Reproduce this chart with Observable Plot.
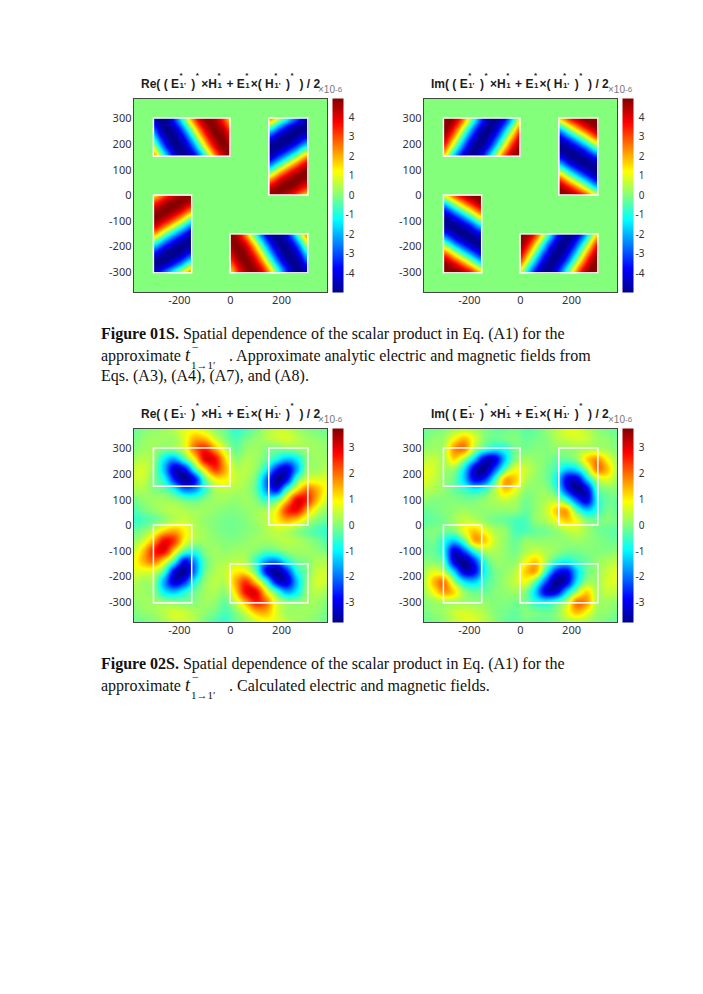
<!DOCTYPE html>
<html><head><meta charset="utf-8">
<script src="https://cdn.jsdelivr.net/npm/d3@7"></script>
<script src="https://cdn.jsdelivr.net/npm/@observablehq/plot@0.6"></script>
<style>
html,body{margin:0;padding:0;background:#fff;overflow:hidden}
#page{position:relative;width:703px;height:994px;overflow:hidden;background:#fff}
.plot{position:absolute}
.plot svg{display:block;background:transparent;overflow:visible}
.title{position:absolute;font:bold 12px "Liberation Sans",sans-serif;color:#1c1c1c;white-space:nowrap;line-height:14px}
.st{display:inline-block;position:relative;height:10px;vertical-align:baseline}
.st i{position:absolute;left:0.5px;font-style:normal;font-size:8px;line-height:8px}
.st i.u{top:-6px}.st i.d{top:4px}
.exp{position:absolute;font:10px "Liberation Sans",sans-serif;color:#777;white-space:nowrap}
.exp sup{font-size:8px;position:relative;top:-1px;vertical-align:baseline}
.cap{position:absolute;left:101px;font:16px "Liberation Serif",serif;color:#111;white-space:nowrap;line-height:20px}
.m{display:inline-block;position:relative;width:40px;height:14px;font-style:italic;font-size:18px}
.m i{position:absolute;font-style:normal}
</style></head><body><div id="page"></div>
<script>
// ---- colour map (jet) stops
const jetStops = [-1, -0.75, -0.25, 0, 0.25, 0.75, 1];
const jetColors = ["#00008f", "#0000ff", "#00ffff", "#84ff7c", "#ffff00", "#ff0000", "#800000"];

// ---- scale limits and ticks
const limitTop = 4.97, limitBottom = 3.75;
const barTicksTop = [-4, -3, -2, -1, 0, 1, 2, 3, 4];
const barTicksBottom = [-3, -2, -1, 0, 1, 2, 3];
const axisXTicks = [-200, 0, 200];
const axisYTicks = [-300, -200, -100, 0, 100, 200, 300];

// ---- white rectangles: [x1, x2, y1, y2]
const boxes = [[-300, 0, 152, 302], [152, 305, 0, 302], [-300, -150, -305, 0], [0, 305, -305, -152]];

// ---- Figure 01S: read from the upper-left box (rows y = 300,250,200,150; columns x = -300..0 by 30).
// The other three boxes are the same pattern turned by 90 degrees.
const fig1X = [-300, -270, -240, -210, -180, -150, -120, -90, -60, -30, 0];
const fig1Y = [300, 250, 200, 150];
const fig1Re = [
  [-4.4, -5, -4.4, -2.6, -0.2, 2.3, 4.2, 4.9, 4.6, 3.4, 1.6],
  [-2.5, -4.4, -5, -4.4, -2.6, -0.2, 2.3, 4.2, 4.9, 4.6, 3.4],
  [0, -2.5, -4.4, -5, -4.4, -2.6, -0.2, 2.3, 4.2, 4.9, 4.6],
  [2.5, 0, -2.5, -4.4, -5, -4.4, -2.6, -0.2, 2.3, 4.2, 4.9]
];
const fig1Im = [
  [4.75, 4.9, 3.7, 1.5, -1, -3.3, -4.75, -4.9, -3.7, -1.5, 1],
  [4.9, 3.7, 1.5, -1, -3.3, -4.75, -4.9, -3.7, -1.5, 1, 3.3],
  [3.7, 1.5, -1, -3.3, -4.75, -4.9, -3.7, -1.5, 1, 3.3, 4.75],
  [1.5, -1, -3.3, -4.75, -4.9, -3.7, -1.5, 1, 3.3, 4.75, 4.9]
];

// ---- Figure 02S: read from the upper-left quadrant
// (rows y = 380..20, columns x = -380..-20, both by 40); the other quadrants repeat it, turned by 90 degrees.
const fig2Re = [
  [-0.2, 0, 0.1, 0.2, 0.4, 0.7, 0.8, 0.5, 0.1, -0.2],
  [-0.1, 0.1, 0.2, 0.2, 0.2, 0.7, 1.5, 1.4, 0.6, 0],
  [0, 0.2, 0.2, 0, 0.1, 0.6, 2, 2.6, 1.6, 0.5],
  [0.2, 0.4, 0.1, -1, -1.6, -0.4, 1, 2.9, 2.8, 1.2],
  [0.5, 0.6, 0, -1.4, -3.2, -2.9, -0.6, 1.2, 2.4, 1.5],
  [0.5, 0.5, -0.1, -0.8, -2.6, -3.7, -2.8, -0.3, 0.9, 1],
  [0.3, 0.3, 0, -0.2, -0.9, -1.9, -1.7, -0.6, 0.3, 0.4],
  [-0.1, 0.1, 0.2, 0.2, 0.1, -0.2, -0.3, 0, 0.2, 0.2],
  [-0.4, -0.1, 0.1, 0.3, 0.4, 0.3, 0.2, 0.2, 0.1, 0],
  [-0.6, -0.4, -0.2, 0.1, 0.4, 0.5, 0.3, 0.1, 0, -0.1]
];
const fig2Im = [
  [-0.2, -0.1, 0, 0.2, 0.3, 0.2, 0, -0.2, -0.2, -0.1],
  [-0.1, 0.1, 0.2, 0.9, 1.4, 0.7, 0, -0.2, -0.1, 0],
  [0.1, 0.2, 0.3, 1.7, 1.9, 0.3, -0.5, -0.9, -0.7, -0.1],
  [0.4, 0.5, 0.3, 1.2, 0.2, -1.3, -3.1, -3.1, -1.3, 0],
  [0.7, 0.6, 0.2, 0.1, -1.1, -3.2, -3.7, -2.2, -0.3, 0.8],
  [0.7, 0.5, 0.1, -0.2, -1.3, -2.9, -2.5, -0.6, 1.5, 1.3],
  [0.4, 0.3, 0.1, -0.2, -0.5, -0.9, -0.6, 0.3, 1.3, 0.8],
  [0.1, 0, 0, 0, -0.1, -0.1, 0.1, 0.3, 0.5, 0.3],
  [-0.2, -0.1, 0, 0.1, 0.2, 0.1, 0.1, 0.1, 0.1, 0.1],
  [-0.3, -0.2, -0.1, 0.2, 0.5, 0.4, 0.1, -0.1, -0.2, -0.4]
];

// ---- text
const captionsFirst = [
  ["Figure 01S.", " Spatial dependence of the scalar product in Eq. (A1) for the"],
  ["approximate ", ". Approximate analytic electric and magnetic fields from"],
  ["Eqs. (A3), (A4), (A7), and (A8)."]
];
const captionsSecond = [
  ["Figure 02S.", " Spatial dependence of the scalar product in Eq. (A1) for the"],
  ["approximate ", ". Calculated electric and magnetic fields."]
];

// ---- layout of the four panels
const panels = [
  {part: "Re", row: 0, left: 133, top: 98, limit: limitTop, ticks: barTicksTop, mark: "*", table: fig1Re},
  {part: "Im", row: 0, left: 423, top: 98, limit: limitTop, ticks: barTicksTop, mark: "*", table: fig1Im},
  {part: "Re", row: 1, left: 133, top: 428, limit: limitBottom, ticks: barTicksBottom, mark: "-", table: fig2Re},
  {part: "Im", row: 1, left: 423, top: 428, limit: limitBottom, ticks: barTicksBottom, mark: "-", table: fig2Im}
];
const plotSize = 194, barWidth = 11;

const page = document.getElementById("page");
function add(node, left, top) { node.classList.add("plot"); node.style.left = left + "px"; node.style.top = top + "px"; page.appendChild(node); }

// Catmull-Rom reading of a table at fractional row and column
function cubic(a, b, c, d, t) { return b + 0.5 * t * (c - a + t * (2 * a - 5 * b + 4 * c - d + t * (3 * (b - c) + d - a))); }
function lookup(tbl, r, c) {
  const rows = tbl.length, cols = tbl[0].length;
  r = Math.max(0, Math.min(rows - 1, r)); c = Math.max(0, Math.min(cols - 1, c));
  const r0 = Math.min(Math.floor(r), rows - 2), c0 = Math.min(Math.floor(c), cols - 2);
  const at = (i, j) => tbl[Math.max(0, Math.min(rows - 1, i))][Math.max(0, Math.min(cols - 1, j))];
  const row = i => cubic(at(i, c0 - 1), at(i, c0), at(i, c0 + 1), at(i, c0 + 2), c - c0);
  return cubic(row(r0 - 1), row(r0), row(r0 + 1), row(r0 + 2), r - r0);
}
function colorOf(limit) {
  return {type: "linear", domain: jetStops.map(s => s * limit), range: jetColors, interpolate: "rgb", clamp: true};
}
function fullGrid(q) {
  const g = d3.range(20).map(() => new Array(20).fill(0));
  const put = (X, Y, v) => { g[(380 - Y) / 40][(X + 380) / 40] = v; };
  q.forEach((row, j) => row.forEach((v, i) => {
    const x = -380 + 40 * i, y = 380 - 40 * j;
    put(x, y, v); put(y, -x, v); put(-x, -y, v); put(-y, x, v);
  }));
  return g;
}
const toUpperLeft = [(x, y) => [x, y], (x, y) => [-y, x], (x, y) => [y, -x], (x, y) => [-x, -y]];

panels.forEach(p => {
  const marks = [];
  if (p.row === 0) {
    marks.push(Plot.rect([{x1: -380, x2: 380, y1: -380, y2: 380, v: 0}], {x1: "x1", x2: "x2", y1: "y1", y2: "y2", fill: "v"}));
    boxes.forEach((b, k) => {
      marks.push(Plot.raster({
        x1: b[0], x2: b[1], y1: b[2], y2: b[3], pixelSize: 1,
        fill: (x, y) => {
          const [X, Y] = toUpperLeft[k](x, y);
          return lookup(p.table, (fig1Y[0] - Y) / 50, (X - fig1X[0]) / 30);
        }
      }));
    });
  } else {
    const grid = fullGrid(p.table);
    marks.push(Plot.raster({
      x1: -380, x2: 380, y1: -380, y2: 380, pixelSize: 1,
      fill: (x, y) => lookup(grid, (380 - y) / 40, (x + 380) / 40)
    }));
  }
  marks.push(Plot.rect(boxes, {x1: d => d[0], x2: d => d[1], y1: d => d[2], y2: d => d[3], fill: "none", stroke: "#fff", strokeWidth: 1.5}));
  marks.push(Plot.frame({stroke: "#454545", strokeWidth: 1}));
  marks.push(Plot.axisX({ticks: axisXTicks, tickSize: 0, tickPadding: 4, fontSize: 11, color: "#333", tickFormat: d => String(d), label: null}));
  marks.push(Plot.axisY({ticks: axisYTicks, tickSize: 0, tickPadding: 2, fontSize: 11, color: "#333", tickFormat: d => String(d), label: null}));
  const chart = Plot.plot({
    width: plotSize + 45, height: plotSize + 30,
    marginLeft: 40, marginRight: 5, marginTop: 5, marginBottom: 25,
    x: {domain: [-380, 380]}, y: {domain: [-380, 380]},
    color: colorOf(p.limit),
    marks
  });
  add(chart, p.left - 40, p.top - 5);

  const bar = Plot.plot({
    width: barWidth + 30, height: plotSize + 10,
    marginLeft: 0, marginRight: 30, marginTop: 5, marginBottom: 5,
    x: {domain: [0, 1], axis: null}, y: {domain: [-p.limit, p.limit]},
    color: colorOf(p.limit),
    marks: [
      Plot.raster({x1: 0, x2: 1, y1: -p.limit, y2: p.limit, pixelSize: 1, fill: (x, y) => y}),
      Plot.axisY({anchor: "right", ticks: p.ticks, tickSize: 0, tickPadding: 0, dx: 11, textAnchor: "end", fontSize: 10, color: "#333", tickFormat: d => String(d), label: null})
    ]
  });
  add(bar, p.left + plotSize + 5, p.top - 5);

  const s = (u, d, w) => `<span class="st" style="width:${w}px"><i class="u">${u}</i><i class="d">${d}</i></span>`;
  const t = document.createElement("div");
  t.className = "title";
  t.style.left = (p.left + 8) + "px";
  t.style.top = (p.top - 21) + "px";
  const mk = p.mark;
  t.innerHTML = `${p.part}( ( E${s(mk, "1'", 9)} )${s("*", "", 6)}×H${s(mk, "1", 6)} + E${s(mk, "1", 6)}×( H${s(mk, "1'", 9)} )${s("*", "", 6)} ) / 2`;
  page.appendChild(t);

  const e = document.createElement("div");
  e.className = "exp";
  e.style.left = (p.left + 185) + "px";
  e.style.top = (p.top - 14) + "px";
  e.innerHTML = "×10<sup>-6</sup>";
  page.appendChild(e);
});

function caption(lines, tops) {
  lines.forEach((parts, i) => {
    const d = document.createElement("div");
    d.className = "cap";
    d.style.top = tops[i] + "px";
    if (parts[0].startsWith("Figure")) {
      d.innerHTML = `<b>${parts[0]}</b>${parts[1]}`;
    } else if (parts.length === 2) {
      d.innerHTML = `${parts[0]}<span class="m">t<i style="left:7px;top:-8px;font-size:12px">−</i><i style="left:6px;top:10px;font-size:11px">1→1′</i></span> ${parts[1]}`;
    } else {
      d.textContent = parts[0];
    }
    page.appendChild(d);
  });
}
caption(captionsFirst, [324, 345, 366]);
caption(captionsSecond, [654, 675]);
</script></body></html>
